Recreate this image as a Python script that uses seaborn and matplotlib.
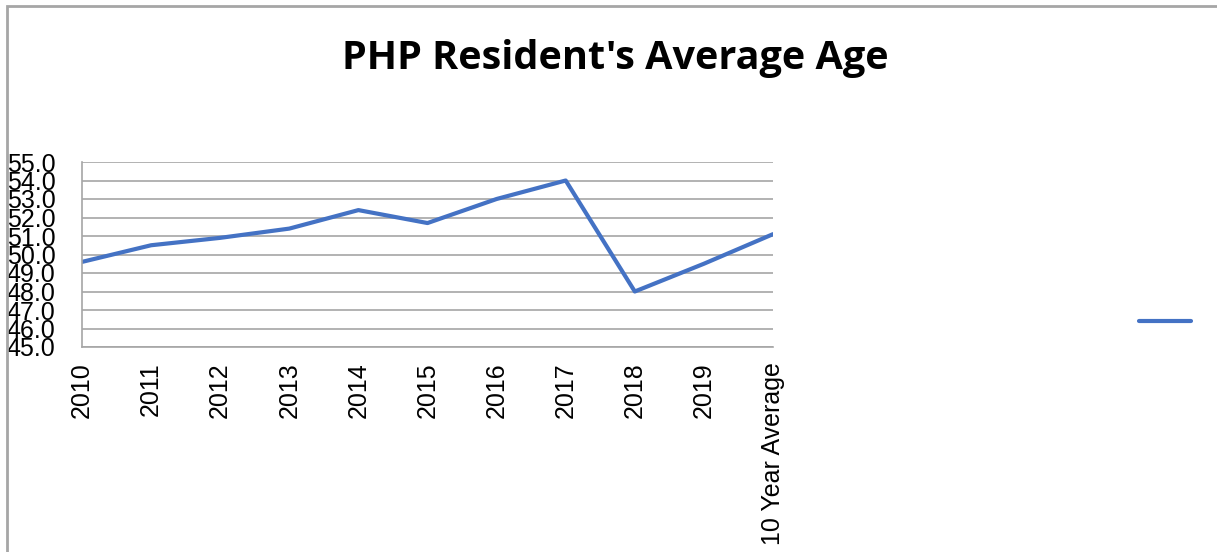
import matplotlib
matplotlib.use("Agg")
import matplotlib.pyplot as plt
import seaborn as sns
import pandas as pd
from matplotlib.patches import Rectangle

# Data
years = ['2010', '2011', '2012', '2013', '2014', '2015', '2016', '2017', '2018', '2019', '10 Year Average']
avg_age = [49.6, 50.5, 50.9, 51.4, 52.4, 51.7, 53.0, 54.0, 48.0, 49.5, 51.1]
y_ticks = [45.0, 46.0, 47.0, 48.0, 49.0, 50.0, 51.0, 52.0, 53.0, 54.0, 55.0]

df = pd.DataFrame({'year': years, 'age': avg_age})

sns.set_style("white")
plt.rcParams['font.family'] = ['Liberation Sans', 'DejaVu Sans']
plt.rcParams['text.color'] = 'black'

fig = plt.figure(figsize=(12.17, 5.52), dpi=100)
ax = fig.add_axes([82 / 1217, 1 - 347 / 552, (773 - 82) / 1217, (347 - 162) / 552])

sns.lineplot(data=df, x='year', y='age', sort=False, color='#4472C4', linewidth=3, ax=ax)

grid_col = '#a6a6a6'
ax.set_ylim(45, 55)
ax.set_xlim(0, len(years) - 1)
ax.set_yticks(y_ticks)
ax.set_yticklabels([f'{v:.1f}' for v in y_ticks], fontsize=18)
ax.set_xticks(range(len(years)))
ax.set_xticklabels(years, rotation=90, fontsize=18)
ax.yaxis.grid(True, color=grid_col, linewidth=1.2)
ax.set_axisbelow(True)
ax.tick_params(axis='x', length=8, color=grid_col, width=1.2, pad=3, labelcolor='black')
ax.tick_params(axis='y', length=6, color=grid_col, width=1.2, pad=13, labelcolor='black')
for s in ['top', 'right']:
    ax.spines[s].set_visible(False)
for s in ['left', 'bottom']:
    ax.spines[s].set_color(grid_col)
    ax.spines[s].set_linewidth(1.2)
ax.set_xlabel('')
ax.set_ylabel('')
if ax.get_legend():
    ax.get_legend().remove()

fig.text(615 / 1217, 1 - 58 / 552, "PHP Resident's Average Age", ha='center', va='center',
         fontsize=28.5, fontweight='bold', color='black', family=['Open Sans', 'DejaVu Sans'])

# legend with only the line sample, no text
handle = ax.get_lines()[0]
fig.legend([handle], [''], loc='center', bbox_to_anchor=(1165 / 1217, 1 - 323 / 552),
           frameon=False, handlelength=2.1, fontsize=18, handletextpad=0)

# chart border
fig.patches.append(Rectangle((7 / 1217, -0.05), 1.1, 1 - 6 / 552 + 0.05, transform=fig.transFigure,
                             fill=False, edgecolor='#a6a6a6', linewidth=2))

fig.savefig('out.png', dpi=100)
